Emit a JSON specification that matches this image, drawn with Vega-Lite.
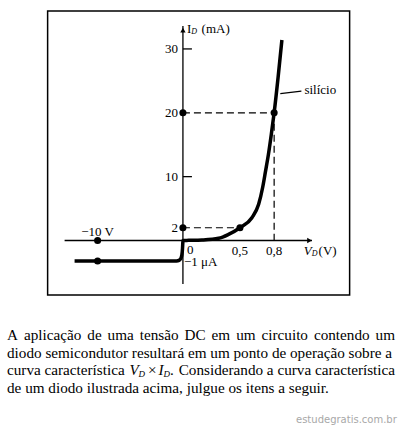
{
  "$schema": "https://vega.github.io/schema/vega-lite/v6.json",
  "background": "white",
  "padding": {"top": 10, "left": 0, "right": 0, "bottom": 0},
  "config": {"view": {"stroke": null}, "font": "Liberation Serif"},
  "center": true,
  "spacing": 16,
  "vconcat": [
    {
      "width": 302,
      "height": 284,
      "view": {"stroke": "black", "strokeWidth": 1.5},
      "encoding": {
        "x": {"field": "V", "type": "quantitative", "axis": null,
              "scale": {"type": "linear", "domain": [-15.86, 0, 1.462], "range": [0, 135.3, 302], "nice": false, "zero": false}},
        "y": {"field": "I", "type": "quantitative", "axis": null,
              "scale": {"type": "linear", "domain": [-0.00266, 0, 35.94], "range": [284, 229.5, 0], "nice": false, "zero": false}}
      },
      "layer": [
        {
          "data": {"values": [
            {"V": 0, "I": -0.00212, "V2": 0, "I2": 33.6},
            {"V": -13.87, "I": 0, "V2": 1.132, "I2": 0},
            {"V": 0, "I": 30, "V2": 0.079, "I2": 30},
            {"V": 0, "I": 10, "V2": 0.079, "I2": 10},
            {"V": 0.854, "I": 23.0, "V2": 1.039, "I2": 23.4}
          ]},
          "mark": {"type": "rule", "color": "black", "strokeWidth": 1.3},
          "encoding": {"x2": {"field": "V2"}, "y2": {"field": "I2"}}
        },
        {
          "data": {"values": [
            {"V": 0, "I": 2, "V2": 0.5, "I2": 2},
            {"V": 0, "I": 20, "V2": 0.8, "I2": 20},
            {"V": 0.8, "I": 20, "V2": 0.8, "I2": 0}
          ]},
          "mark": {"type": "rule", "color": "black", "strokeWidth": 1.2, "strokeDash": [7, 4]},
          "encoding": {"x2": {"field": "V2"}, "y2": {"field": "I2"}}
        },
        {
          "data": {"values": [
            {"k": 1, "V": -12.7, "I": -0.001},
            {"k": 2, "V": -10, "I": -0.001},
            {"k": 3, "V": -0.75, "I": -0.001},
            {"k": 4, "V": -0.45, "I": -0.00097},
            {"k": 5, "V": -0.25, "I": -0.00088},
            {"k": 6, "V": -0.12, "I": -0.0007},
            {"k": 7, "V": -0.05, "I": -0.0004},
            {"k": 8, "V": -0.015, "I": -0.00012},
            {"k": 9, "V": 0, "I": 0},
            {"k": 10, "V": 0.05, "I": 0.02},
            {"k": 11, "V": 0.167, "I": 0.08},
            {"k": 12, "V": 0.313, "I": 0.34},
            {"k": 13, "V": 0.4, "I": 0.95},
            {"k": 14, "V": 0.5, "I": 2},
            {"k": 15, "V": 0.605, "I": 3.57},
            {"k": 16, "V": 0.664, "I": 5.66},
            {"k": 17, "V": 0.7, "I": 8.38},
            {"k": 18, "V": 0.723, "I": 10.7},
            {"k": 19, "V": 0.75, "I": 13.5},
            {"k": 20, "V": 0.775, "I": 16.6},
            {"k": 21, "V": 0.8, "I": 20},
            {"k": 22, "V": 0.835, "I": 25.6},
            {"k": 23, "V": 0.868, "I": 31.4}
          ]},
          "mark": {"type": "line", "color": "black", "strokeWidth": 3.5, "interpolate": "monotone"},
          "encoding": {"order": {"field": "k", "type": "quantitative"}}
        },
        {
          "data": {"values": [
            {"V": 0, "I": 2}, {"V": 0.5, "I": 2}, {"V": 0, "I": 20}, {"V": 0.8, "I": 20},
            {"V": -10, "I": 0}, {"V": -10, "I": -0.001}
          ]},
          "mark": {"type": "point", "filled": true, "color": "black", "size": 50, "opacity": 1}
        },
        {
          "data": {"values": [{"V": 0, "I": 32.95}]},
          "mark": {"type": "point", "shape": "triangle-up", "filled": true, "color": "black", "size": 28, "opacity": 1}
        },
        {
          "data": {"values": [{"V": 1.11, "I": 0}]},
          "mark": {"type": "point", "shape": "triangle-right", "filled": true, "color": "black", "size": 28, "opacity": 1}
        },
        {
          "data": {"values": [
            {"V": 0, "I": 30, "t": "30"}, {"V": 0, "I": 20, "t": "20"},
            {"V": 0, "I": 10, "t": "10"}, {"V": 0, "I": 2, "t": "2"}
          ]},
          "mark": {"type": "text", "align": "right", "baseline": "middle", "dx": -5, "fontSize": 13, "color": "black"},
          "encoding": {"text": {"field": "t"}}
        },
        {
          "data": {"values": [{"V": 0.5, "I": 0, "t": "0,5"}, {"V": 0.8, "I": 0, "t": "0,8"}]},
          "mark": {"type": "text", "align": "center", "baseline": "middle", "dy": 10, "fontSize": 13, "color": "black"},
          "encoding": {"text": {"field": "t"}}
        },
        {
          "data": {"values": [{"V": 0, "I": 0, "t": "0"}]},
          "mark": {"type": "text", "align": "left", "baseline": "middle", "dx": 4, "dy": 9, "fontSize": 13, "color": "black"},
          "encoding": {"text": {"field": "t"}}
        },
        {
          "data": {"values": [{"V": -10, "I": 0, "t": "\u221210 V"}]},
          "mark": {"type": "text", "align": "center", "baseline": "middle", "dy": -9, "fontSize": 13, "color": "black"},
          "encoding": {"text": {"field": "t"}}
        },
        {
          "data": {"values": [{"V": 0, "I": -0.001, "t": "\u22121 \u03bcA"}]},
          "mark": {"type": "text", "align": "left", "baseline": "middle", "dx": 1, "dy": 1, "fontSize": 13, "color": "black"},
          "encoding": {"text": {"field": "t"}}
        },
        {
          "data": {"values": [{"V": 1.039, "I": 23.4, "t": "silício"}]},
          "mark": {"type": "text", "align": "left", "baseline": "middle", "dx": 3, "dy": -1, "fontSize": 13, "color": "black"},
          "encoding": {"text": {"field": "t"}}
        },
        {
          "data": {"values": [
            {"V": 0.035, "I": 33.1, "t": "I"},
            {"V": 0.164, "I": 33.1, "t": "(mA)"}
          ]},
          "mark": {"type": "text", "align": "left", "baseline": "middle", "fontSize": 13, "color": "black"},
          "encoding": {"text": {"field": "t"}}
        },
        {
          "data": {"values": [{"V": 1.19, "I": 0, "t": "(V)"}]},
          "mark": {"type": "text", "align": "left", "baseline": "middle", "dy": 10, "fontSize": 13, "color": "black"},
          "encoding": {"text": {"field": "t"}}
        },
        {
          "data": {"values": [{"V": 1.059, "I": 0, "t": "V"}]},
          "mark": {"type": "text", "align": "left", "baseline": "middle", "dy": 10, "fontSize": 13, "fontStyle": "italic", "color": "black"},
          "encoding": {"text": {"field": "t"}}
        },
        {
          "data": {"values": [{"V": 1.129, "I": 0, "t": "D"}]},
          "mark": {"type": "text", "align": "left", "baseline": "middle", "dy": 13, "fontSize": 8, "fontStyle": "italic", "color": "black"},
          "encoding": {"text": {"field": "t"}}
        },
        {
          "data": {"values": [{"V": 0.072, "I": 33.1, "t": "D"}]},
          "mark": {"type": "text", "align": "left", "baseline": "middle", "dy": 3, "fontSize": 8, "fontStyle": "italic", "color": "black"},
          "encoding": {"text": {"field": "t"}}
        }
      ]
    },
    {
      "width": 398,
      "height": 118,
      "encoding": {
        "x": {"field": "pos", "type": "quantitative", "axis": null, "scale": {"domain": [0, 100], "nice": false, "zero": false}},
        "y": {"field": "line", "type": "quantitative", "axis": null, "scale": {"domain": [-0.2994, 6.367], "nice": false, "zero": false, "reverse": true}}
      },
      "layer": [
        {
          "data": {"values": [
            {"line": 1, "pos": 1.76, "t": "A"},
            {"line": 1, "pos": 6.02, "t": "aplicação"},
            {"line": 1, "pos": 21.94, "t": "de"},
            {"line": 1, "pos": 27.04, "t": "uma"},
            {"line": 1, "pos": 35.12, "t": "tensão"},
            {"line": 1, "pos": 46.37, "t": "DC"},
            {"line": 1, "pos": 53.17, "t": "em"},
            {"line": 1, "pos": 59.34, "t": "um"},
            {"line": 1, "pos": 65.72, "t": "circuito"},
            {"line": 1, "pos": 78.88, "t": "contendo"},
            {"line": 1, "pos": 94.37, "t": "um"},
            {"line": 2, "pos": 1.76, "t": "diodo semicondutor resultará em um ponto de operação sobre a"},
            {"line": 3, "pos": 1.76, "t": "curva característica"},
            {"line": 3, "pos": 37.19, "t": "\u00d7"},
            {"line": 3, "pos": 42.71, "t": "."},
            {"line": 4, "pos": 1.76, "t": "de um diodo ilustrada acima, julgue os itens a seguir."}
          ]},
          "mark": {"type": "text", "align": "left", "baseline": "middle", "fontSize": 15.2, "color": "black"},
          "encoding": {"text": {"field": "t"}}
        },
        {
          "data": {"values": [
            {"line": 3, "pos": 99.25, "t": "Considerando a curva característica"}
          ]},
          "mark": {"type": "text", "align": "right", "baseline": "middle", "fontSize": 15.2, "color": "black"},
          "encoding": {"text": {"field": "t"}}
        },
        {
          "data": {"values": [
            {"line": 3, "pos": 32.54, "t": "V"},
            {"line": 3, "pos": 39.82, "t": "I"}
          ]},
          "mark": {"type": "text", "align": "left", "baseline": "middle", "fontSize": 15.2, "fontStyle": "italic", "color": "black"},
          "encoding": {"text": {"field": "t"}}
        },
        {
          "data": {"values": [
            {"line": 3, "pos": 34.8, "t": "D"},
            {"line": 3, "pos": 41.08, "t": "D"}
          ]},
          "mark": {"type": "text", "align": "left", "baseline": "middle", "dy": 4, "fontSize": 9, "fontStyle": "italic", "color": "black"},
          "encoding": {"text": {"field": "t"}}
        },
        {
          "data": {"values": [{"line": 5.8, "pos": 99.7, "t": "estudegratis.com.br"}]},
          "mark": {"type": "text", "align": "right", "baseline": "middle", "fontSize": 10, "font": "DejaVu Sans", "color": "#a8a8a8"},
          "encoding": {"text": {"field": "t"}}
        }
      ]
    }
  ]
}
